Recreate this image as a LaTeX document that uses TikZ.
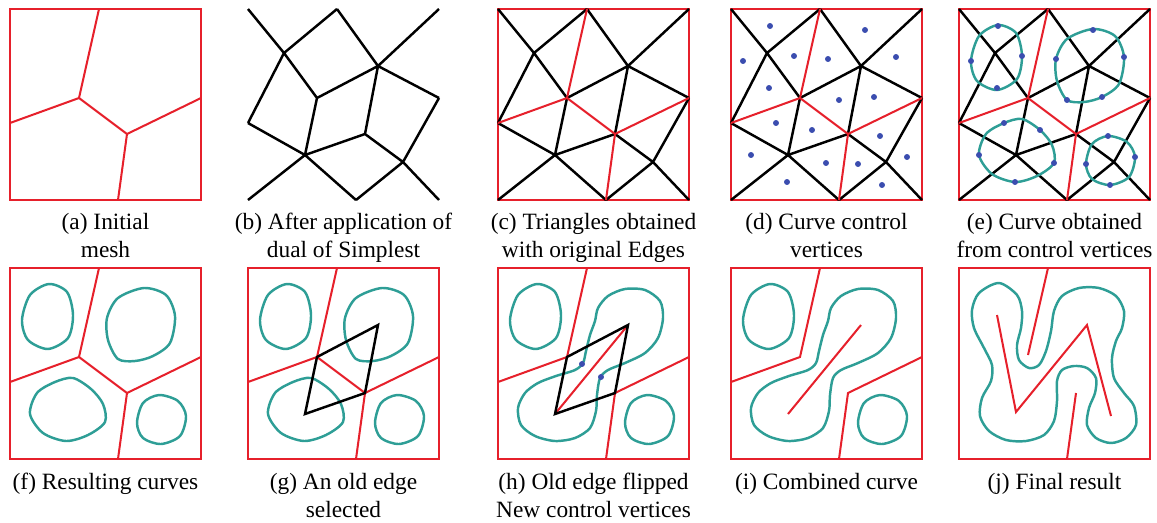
\documentclass[tikz,border=0pt]{standalone}
\usepackage{fontspec}
\setmainfont{Liberation Serif}
\usepackage{tikz}

% mesh points of one panel (panel is 191 x 191)
\newcommand{\meshpts}{%
  \coordinate (TL) at (0,0); \coordinate (TR) at (191,0);
  \coordinate (BL) at (0,191); \coordinate (BR) at (191,191);
  \coordinate (T) at (89,0); \coordinate (L) at (0,114);
  \coordinate (R) at (191,89); \coordinate (Bo) at (108,191);
  \coordinate (A) at (69,89); \coordinate (B) at (117,125);
  \coordinate (P1) at (36,44); \coordinate (P2) at (130,57);
  \coordinate (P3) at (57,146); \coordinate (P4) at (155,153);}
\newcommand{\frm}{\draw[frame] (0,0) rectangle (191,191);}
\newcommand{\blackmesh}{\draw[tri] (TL)--(P1)--(A) (T)--(P1)--(L) (T)--(P2)--(TR) (A)--(P2)--(R) (P2)--(B)
  (L)--(P3)--(BL) (A)--(P3)--(Bo) (P3)--(B)--(P4)--(BR) (R)--(P4)--(Bo);}
\newcommand{\redmesh}{\draw[orig] (T)--(A)--(L) (A)--(B) (R)--(B)--(Bo);}
\newcommand{\ctrlpts}{\foreach \p in {(39,17),(12,52),(63,47),(97,50),(134,21),(165,48),(38,79),(108,91),(143,88),
  (45,114),(81,121),(149,127),(20,146),(95,154),(127,155),(176,148),(56,173),(151,176)} \fill[ctrl] \p circle (1.7pt);}
\newcommand{\loopa}{\draw[curve] plot[smooth cycle] coordinates {(39,16) (57,24) (63,47) (58,70) (38,81) (18,72) (12,52) (20,27)};}
\newcommand{\loopb}{\draw[curve] plot[smooth cycle] coordinates {(134,20) (156,27) (165,48) (160,75) (143,88) (125,93) (108,91) (98,72) (97,50) (108,30)};}
\newcommand{\loopc}{\draw[curve] plot[smooth cycle] coordinates {(45,114) (63,110) (81,121) (93,136) (95,154) (78,167) (56,173) (33,165) (20,146) (27,125)};}
\newcommand{\loopd}{\draw[curve] plot[smooth cycle] coordinates {(149,127) (168,133) (176,148) (170,168) (151,176) (133,170) (127,155) (133,135)};}
\newcommand{\loopbc}{\draw[curve] plot[smooth cycle] coordinates {(97,53) (100,40) (110,28) (127,21) (147,22) (162,33) (165,50) (160,70)
  (147,85) (127,95) (110,102) (102,110) (99,127) (98,143) (92,160) (77,170) (57,173) (37,168) (23,157) (20,140)
  (27,125) (40,115) (58,108) (77,102) (85,95) (88,83) (92,67)};}

\begin{document}
\begin{tikzpicture}[x=0.02cm,y=-0.02cm,
    frame/.style={draw=redline,line width=1.5pt},
    orig/.style={draw=redline,line width=1.15pt},
    tri/.style={draw=black,line width=1.4pt},
    curve/.style={draw=tealc,line width=1.4pt},
    ctrl/.style={fill=dotc},
    capt/.style={anchor=base,align=center,inner sep=0pt,font=\fontsize{13.3}{15.6}\selectfont}]
    \definecolor{redline}{HTML}{E6202B}
    \definecolor{tealc}{HTML}{2E9E96}
    \definecolor{dotc}{HTML}{3B4DAF}
    \useasboundingbox (0,0) rectangle (1157,522);
    % (a)
    \begin{scope}[shift={(10,9)}]
        \meshpts \frm \redmesh
    \end{scope}
    % (b)
    \begin{scope}[shift={(248,9)}]
        \meshpts \blackmesh
    \end{scope}
    % (c)
    \begin{scope}[shift={(498,9)}]
        \meshpts \frm \blackmesh \redmesh
    \end{scope}
    % (d)
    \begin{scope}[shift={(731,9)}]
        \meshpts \frm \blackmesh \redmesh \ctrlpts
    \end{scope}
    % (e)
    \begin{scope}[shift={(959,9)}]
        \meshpts \frm \blackmesh \redmesh \loopa \loopb \loopc \loopd \ctrlpts
    \end{scope}
    % (f)
    \begin{scope}[shift={(10,268)}]
        \meshpts \frm \redmesh \loopa \loopb \loopc \loopd
    \end{scope}
    % (g)
    \begin{scope}[shift={(248,268)}]
        \meshpts \frm \redmesh \loopa \loopb \loopc \loopd
        \draw[tri] (A)--(P2)--(B)--(P3)--cycle;
    \end{scope}
    % (h)
    \begin{scope}[shift={(498,268)}]
        \meshpts \frm
        \draw[orig] (T)--(A)--(L) (R)--(B)--(Bo) (P3)--(P2);
        \loopa \loopd \loopbc
        \draw[tri] (A)--(P2)--(B)--(P3)--cycle;
        \fill[ctrl] (84,96) circle (1.7pt) (103,109) circle (1.7pt);
    \end{scope}
    % (i)
    \begin{scope}[shift={(731,268)}]
        \meshpts \frm
        \draw[orig] (T)--(A)--(L) (R)--(B)--(Bo) (P3)--(P2);
        \loopa \loopd \loopbc
    \end{scope}
    % (j)
    \begin{scope}[shift={(959,268)}]
        \meshpts \frm
        \draw[orig] (T)--(69,87) (38,47)--(57,144)--(128,57)--(152,148) (B)--(Bo);
        \draw[curve] plot[smooth cycle] coordinates {(40,15) (58,27) (63,43) (62,60) (58,77) (60,92) (70,100) (80,97)
          (87,83) (92,63) (95,43) (103,28) (120,20) (140,20) (157,28) (165,43) (163,60) (157,73) (153,90) (155,110)
          (165,125) (175,138) (177,157) (167,170) (152,175) (137,170) (128,157) (130,140) (136,125) (137,110) (128,100)
          (115,98) (103,102) (98,113) (98,133) (95,153) (85,167) (67,173) (47,172) (30,163) (21,148) (23,130) (32,113)
          (33,97) (25,80) (15,60) (13,42) (20,25)};
    \end{scope}
    % captions (base = last line)
    \node[capt] (capa) at (105.5,257) {(a) Initial\\mesh};
    \node[capt] (capb) at (343.5,257) {(b) After application of\\dual of Simplest};
    \node[capt] (capc) at (593.5,257) {(c) Triangles obtained\\with original Edges};
    \node[capt] (capd) at (826.5,257) {(d) Curve control\\vertices};
    \node[capt] (cape) at (1054.5,257) {(e) Curve obtained\\from control vertices};
    \node[capt] (capf) at (105.5,489) {(f) Resulting curves};
    \node[capt] (capg) at (343.5,517) {(g) An old edge\\selected};
    \node[capt] (caph) at (593.5,517) {(h) Old edge flipped\\New control vertices};
    \node[capt] (capi) at (826.5,489) {(i) Combined curve};
    \node[capt] (capj) at (1054.5,489) {(j) Final result};
\end{tikzpicture}
\end{document}
